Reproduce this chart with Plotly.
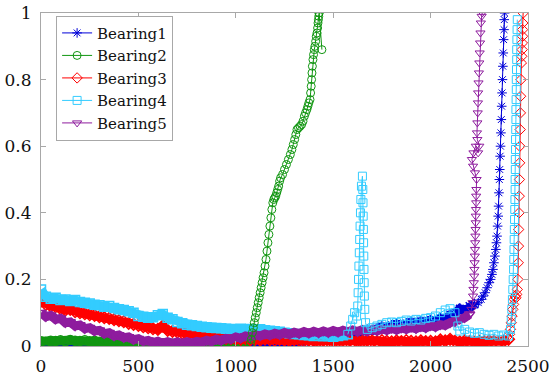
import plotly.graph_objects as go

# ---------------- data ----------------
STEP = 25
series_names = ["Bearing1", "Bearing2", "Bearing3", "Bearing4", "Bearing5"]

# Bearing1 baseline (x = 0, 25, 50, ...)
b1_base = [0.004,0.002,0.005,0.003,0.004,0.002,0.003,0.005,0.002,0.004,
           0.003,0.005,0.002,0.004,0.003,0.002,0.004,0.003,0.005,0.002,
           0.003,0.004,0.002,0.005,0.003,0.004,0.002,0.003,0.005,0.004,
           0.003,0.005,0.004,0.006,0.004,0.005,0.007,0.005,0.006,0.008,
           0.007,0.009,0.006,0.01,0.008,0.011,0.009,0.012,0.01,0.013,
           0.011,0.014,0.012,0.016,0.013,0.018,0.016,0.02,0.019,0.024,
           0.026,0.03,0.033,0.031,0.037,0.04,0.044,0.048,0.046,0.052,
           0.058,0.055,0.062,0.066,0.06,0.068,0.072,0.066,0.074,0.07,
           0.078,0.072,0.083,0.08,0.094,0.098,0.112,0.106,0.12,0.125]
b1_tail_x = [2245,2260,2270,2280,2290,2300,2308,2315,2320,2325,2330,2335,2338,2341,2344,2347,2349,
             2351,2353,2355,2357,2359,2361,2363,2365,2367,2369,2371,2373,2375,2377,2378,2380]
b1_tail_y = [0.13,0.14,0.15,0.16,0.175,0.19,0.2,0.215,0.23,0.25,0.27,0.29,0.31,0.33,0.36,0.39,0.42,
             0.46,0.5,0.53,0.57,0.6,0.64,0.68,0.72,0.76,0.8,0.84,0.88,0.92,0.95,0.98,1.0]

# Bearing2
b2_base = [0.014,0.012,0.016,0.015,0.017,0.014,0.018,0.016,0.015,0.017,
           0.014,0.016,0.013,0.015,0.012,0.013,0.011,0.012,0.01,0.011,
           0.009,0.01,0.008,0.009,0.007,0.008,0.006,0.007,0.005,0.006,
           0.005,0.006,0.004,0.005,0.004,0.005,0.004,0.005,0.004,0.005,
           0.005,0.006,0.007,0.008]
b2_tail_x = [1080,1085,1090,1095,1100,1105,1110,1115,1120,1125,1130,1135,1140,1145,1150,1155,1160,
             1165,1170,1175,1180,1185,1190,1195,1200,1205,1210,1215,1220,1225,1230,
             1240,1250,1260,1270,1280,1288,1295,1302,1308,1314,
             1322,1330,1338,1345,1352,1358,1365,1370,1375,1381,
             1384,1387,1389,1391,1393,1396,1399,1403,1406,1410,
             1413,1417,1420,1422,1424,1426,1427,1428,1442]
b2_tail_y = [0.02,0.04,0.055,0.07,0.085,0.1,0.115,0.13,0.145,0.16,0.175,0.19,0.205,0.22,0.24,0.26,0.285,
             0.31,0.335,0.36,0.385,0.41,0.43,0.44,0.445,0.45,0.46,0.47,0.48,0.495,0.505,
             0.515,0.53,0.545,0.56,0.575,0.59,0.605,0.62,0.635,0.65,
             0.655,0.66,0.665,0.675,0.69,0.7,0.71,0.72,0.73,0.74,
             0.76,0.78,0.8,0.82,0.84,0.86,0.875,0.89,0.9,0.915,
             0.93,0.94,0.955,0.97,0.98,0.99,1.0,1.0,0.89]

# Bearing3
b3_base = [0.135,0.125,0.12,0.118,0.112,0.108,0.11,0.103,0.1,0.097,
           0.094,0.092,0.088,0.085,0.083,0.079,0.076,0.073,0.068,0.065,
           0.062,0.058,0.055,0.052,0.05,0.06,0.047,0.044,0.042,0.039,
           0.037,0.035,0.033,0.03,0.029,0.027,0.026,0.024,0.023,0.022,
           0.021,0.02,0.022,0.019,0.02,0.018,0.021,0.019,0.017,0.02,
           0.018,0.016,0.019,0.017,0.015,0.018,0.016,0.014,0.017,0.015,
           0.016,0.014,0.017,0.015,0.013,0.016,0.014,0.017,0.015,0.013,
           0.016,0.014,0.012,0.015,0.013,0.016,0.014,0.012,0.015,0.013,
           0.014,0.012,0.018,0.015,0.02,0.014,0.012,0.015,0.013,0.011,
           0.014,0.012,0.015,0.013,0.011,0.014,0.02]
b3_tail_x = [2405,2410,2414,2418,2422,2426,2430,2434,2438,2442,2445,2448,2450,2451,2452,2454,
             2455,2456,2457,2458,2460,2461,2462,2464,2466,2468,2470,2471,2472,2472,2473,2475]
b3_tail_y = [0.035,0.05,0.07,0.09,0.11,0.125,0.14,0.15,0.145,0.155,0.17,0.2,0.25,0.3,0.35,0.4,
             0.45,0.5,0.55,0.6,0.65,0.7,0.75,0.8,0.85,0.87,0.89,0.91,0.93,0.95,0.97,1.0]

# Bearing4
b4_base = [0.17,0.148,0.142,0.145,0.138,0.14,0.135,0.138,0.132,0.13,
           0.128,0.124,0.122,0.118,0.12,0.114,0.11,0.108,0.104,0.1,
           0.09,0.088,0.085,0.086,0.092,0.096,0.085,0.08,0.072,0.068,
           0.064,0.062,0.06,0.058,0.056,0.055,0.054,0.053,0.052,0.051,
           0.05,0.052,0.049,0.051,0.048,0.05,0.047,0.046,0.044,0.043,
           0.04,0.038,0.036,0.035,0.033,0.032,0.03,0.031,0.029,0.03,
           0.028,0.03,0.032,0.035]
b4_tail_x = [1590,1600,1610,1620,
             1626,1628,1630,1632,1634,1636,1638,1640,1642,1645,1650,
             1652,1653,1654,1655,1656,1657,1658,1659,1660,1662,1666,
             1675,1700,1725,1750,1775,1800,1825,1850,1875,1900,1925,1950,1975,2000,2025,2050,2075,2100,2125,
             2140,
             2150,2175,2200,2225,2250,2275,2300,2325,2350,2375,2400,
             2410,2414,2417,2420,2422,2424,2426,2427,2428,2429,2430,2431,2432,2433,2434,2434,
             2435,2435,2436,2436,2437,2438,2438,2439,2440,2440,2441,2442,2442,2443,2444,2445]
b4_tail_y = [0.06,0.08,0.1,0.09,
             0.12,0.16,0.2,0.24,0.28,0.32,0.36,0.4,0.44,0.48,0.51,
             0.47,0.43,0.39,0.35,0.31,0.27,0.23,0.19,0.15,0.11,0.07,
             0.05,0.055,0.06,0.065,0.07,0.072,0.07,0.074,0.078,0.075,0.08,0.078,0.083,0.085,0.09,0.1,0.108,0.112,0.1,
             0.06,
             0.045,0.05,0.042,0.038,0.04,0.035,0.032,0.035,0.03,0.033,0.03,
             0.05,0.08,0.11,0.14,0.17,0.2,0.23,0.26,0.29,0.32,0.35,0.38,0.41,0.44,0.47,0.5,
             0.53,0.56,0.59,0.62,0.65,0.68,0.71,0.74,0.77,0.8,0.83,0.86,0.89,0.92,0.95,0.98]

# Bearing5
b5_base = [0.1,0.088,0.092,0.08,0.083,0.07,0.072,0.06,0.063,0.052,
           0.055,0.045,0.047,0.037,0.04,0.03,0.033,0.025,0.027,0.019,
           0.022,0.014,0.017,0.01,0.014,0.008,0.013,0.008,0.012,0.008,
           0.013,0.009,0.014,0.011,0.017,0.013,0.02,0.016,0.023,0.02,
           0.027,0.023,0.03,0.027,0.034,0.03,0.036,0.032,0.038,0.034,
           0.04,0.035,0.041,0.037,0.043,0.038,0.044,0.039,0.045,0.04,
           0.046,0.041,0.047,0.042,0.048,0.043,0.049,0.044,0.05,0.045,
           0.051,0.047,0.053,0.048,0.054,0.05,0.056,0.052,0.058,0.054,
           0.061,0.057,0.064,0.062,0.07,0.072,0.08,0.085,0.095]
b5_tail_x = [2210,2215,2218,2220,2222,2224,2225,2226,2227,2228,2229,2230,2231,2232,2232,2233,2234,2234,2235,
             2236,2228,2218,2212,2220,2232,2244,2250,2240,
             2238,2240,2242,2243,2244,2246,2248,2250,2252,2254,2256,2258,2262,2265]
b5_tail_y = [0.11,0.13,0.15,0.17,0.19,0.21,0.23,0.25,0.27,0.29,0.31,0.33,0.35,0.37,0.39,0.41,0.43,0.45,0.47,
             0.5,0.52,0.54,0.56,0.58,0.6,0.58,0.6,0.62,
             0.64,0.67,0.7,0.73,0.76,0.79,0.82,0.85,0.88,0.91,0.94,0.97,0.99,1.0]

x_ticks = [0, 500, 1000, 1500, 2000, 2500]
y_ticks = [0, 0.2, 0.4, 0.6, 0.8, 1]
y_tick_text = ["0", "0.2", "0.4", "0.6", "0.8", "1"]

# ---------------- styles ----------------
colors = ["#0000D8", "#119611", "#FF0000", "#33CCFF", "#8E1C9E"]
symbols = ["asterisk-open", "circle-open", "diamond-open", "square-open", "triangle-down-open"]
bases = [b1_base, b2_base, b3_base, b4_base, b5_base]
tails_x = [b1_tail_x, b2_tail_x, b3_tail_x, b4_tail_x, b5_tail_x]
tails_y = [b1_tail_y, b2_tail_y, b3_tail_y, b4_tail_y, b5_tail_y]

FONT = "DejaVu Serif"

fig = go.Figure()
# dense (thick-looking) low-level parts first
for name, col, sym, base in zip(series_names, colors, symbols, bases):
    xs = [STEP * i for i in range(len(base))]
    fig.add_trace(go.Scatter(
        x=xs, y=base, mode="lines+markers", name=name, legendgroup=name, showlegend=False,
        line=dict(color=col, width=9),
        marker=dict(symbol=sym, size=9, color=col, line=dict(color=col, width=1.5)),
    ))
# rising parts + legend entries
for name, col, sym, base, tx, ty in zip(series_names, colors, symbols, bases, tails_x, tails_y):
    assert len(tx) == len(ty), name
    xs = [STEP * (len(base) - 1)] + tx
    ys = [base[-1]] + ty
    fig.add_trace(go.Scatter(
        x=xs, y=ys, mode="lines+markers", name=name, legendgroup=name,
        line=dict(color=col, width=1),
        marker=dict(symbol=sym, size=8, color=col, line=dict(color=col, width=1)),
    ))

axis_common = dict(
    showline=True, linecolor="#A8A8A8", linewidth=1, mirror="ticks",
    ticks="inside", ticklen=5, tickcolor="#A8A8A8", tickwidth=1,
    showgrid=False, zeroline=False, automargin=False, ticklabeloverflow="allow",
    tickfont=dict(family=FONT, size=17, color="#111111"),
)
fig.update_xaxes(range=[0, 2500], tickvals=x_ticks, ticklabelstandoff=5, **axis_common)
fig.update_yaxes(range=[0, 1], tickvals=y_ticks, ticktext=y_tick_text,
                 ticklabelstandoff=5, **axis_common)

fig.update_layout(
    width=551, height=376,
    margin=dict(l=41, r=23, t=13, b=30),
    paper_bgcolor="white", plot_bgcolor="white",
    showlegend=True,
    legend=dict(x=0.031, y=0.992, xanchor="left", yanchor="top",
                bgcolor="white", bordercolor="#A8A8A8", borderwidth=1,
                font=dict(family=FONT, size=15, color="#111111"),
                tracegroupgap=0, itemwidth=30),
)

# remove the browser's default 8px page margin so the figure sits at the window's corner
fig.write_html("out.html", config={"displayModeBar": False},
               post_script="document.body.style.margin='0px';")
